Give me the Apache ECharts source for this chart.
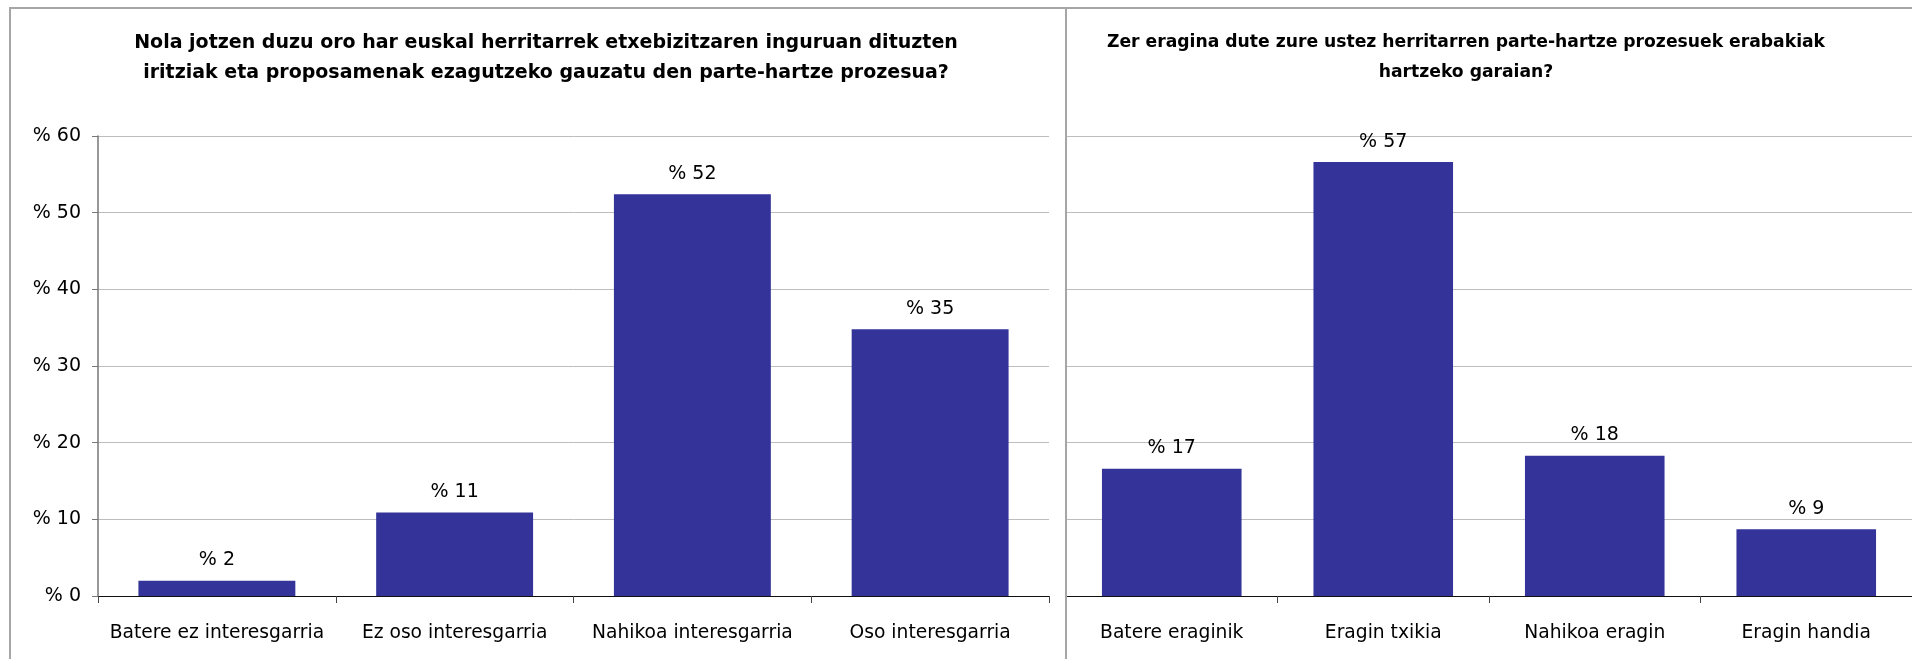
<!DOCTYPE html>
<html>
<head>
<meta charset="utf-8">
<script src="https://cdn.jsdelivr.net/npm/echarts/dist/echarts.min.js"></script>
<style>
    html, body { margin: 0; padding: 0; background: #fff; }
    #main { width: 1912px; height: 659px; }
</style>
</head>
<body>
<div id="main"></div>
<script>
// left chart
const leftTitle = 'Nola jotzen duzu oro har euskal herritarrek etxebizitzaren inguruan dituzten\niritziak eta proposamenak ezagutzeko gauzatu den parte-hartze prozesua?';
const leftCategories = ['Batere ez interesgarria', 'Ez oso interesgarria', 'Nahikoa interesgarria', 'Oso interesgarria'];
const leftValues = [2.0, 10.9, 52.4, 34.8];

// right chart
const rightTitle = 'Zer eragina dute zure ustez herritarren parte-hartze prozesuek erabakiak\nhartzeko garaian?';
const rightCategories = ['Batere eraginik', 'Eragin txikia', 'Nahikoa eragin', 'Eragin handia'];
const rightValues = [16.6, 56.6, 18.3, 8.7];

const yMin = 0;
const yMax = 60;
const yStep = 10;

const font = 'DejaVu Sans';
const barColor = '#333399';
const frameColor = '#a6a6a6';

let dom = document.getElementById('main');
let myChart = echarts.init(dom, null, { renderer: 'canvas' });

function pctLabel(v) {
    return '% ' + Math.round(v);
}

function yAxisOf(idx, showLabels) {
    return {
        type: 'value',
        gridIndex: idx,
        min: yMin,
        max: yMax,
        interval: yStep,
        axisLine: { show: showLabels, lineStyle: { color: '#777', width: 1.5 } },
        axisTick: { show: showLabels, length: 6, lineStyle: { color: '#777' } },
        axisLabel: {
            show: showLabels,
            margin: 17,
            formatter: '% {value}',
            color: '#000',
            fontFamily: font,
            fontSize: 19
        },
        splitLine: { show: true, lineStyle: { color: '#bdbdbd', width: 1 } }
    };
}

function xAxisOf(idx, cats) {
    return {
        type: 'category',
        gridIndex: idx,
        data: cats,
        axisLine: { show: true, lineStyle: { color: '#111', width: 1 } },
        axisTick: { show: true, length: 7, lineStyle: { color: '#444' } },
        axisLabel: {
            margin: 28,
            color: '#000',
            fontFamily: font,
            fontSize: 18.7,
            interval: 0
        }
    };
}

function barsOf(idx, values) {
    return {
        type: 'bar',
        xAxisIndex: idx,
        yAxisIndex: idx,
        data: values,
        barWidth: '66%',
        itemStyle: { color: barColor },
        label: {
            show: true,
            position: 'top',
            distance: 11,
            color: '#000',
            fontFamily: font,
            fontSize: 19,
            formatter: function (p) { return pctLabel(p.value); }
        }
    };
}

let options = {
    animation: false,
    backgroundColor: '#fff',
    title: [
        {
            text: leftTitle,
            left: 541,
            top: 23,
            textAlign: 'center',
            textStyle: { fontFamily: font, fontSize: 19, fontWeight: 'bold', color: '#000', lineHeight: 30 }
        },
        {
            text: rightTitle,
            left: 1461,
            top: 23,
            textAlign: 'center',
            textStyle: { fontFamily: font, fontSize: 17.2, fontWeight: 'bold', color: '#000', lineHeight: 30 }
        }
    ],
    grid: [
        { left: 98, right: 863, top: 136, bottom: 63, containLabel: false },
        { left: 1066, right: -4, top: 136, bottom: 63, containLabel: false }
    ],
    xAxis: [xAxisOf(0, leftCategories), xAxisOf(1, rightCategories)],
    yAxis: [yAxisOf(0, true), yAxisOf(1, false)],
    series: [barsOf(0, leftValues), barsOf(1, rightValues)],
    graphic: [
        // panel frames
        { type: 'line', shape: { x1: 9, y1: 8, x2: 1912, y2: 8 }, style: { stroke: frameColor, lineWidth: 2 }, z: 10 },
        { type: 'line', shape: { x1: 10, y1: 8, x2: 10, y2: 659 }, style: { stroke: frameColor, lineWidth: 2 }, z: 10 },
        { type: 'line', shape: { x1: 1066, y1: 8, x2: 1066, y2: 659 }, style: { stroke: frameColor, lineWidth: 2 }, z: 10 }
    ]
};

myChart.setOption(options);
</script>
</body>
</html>
